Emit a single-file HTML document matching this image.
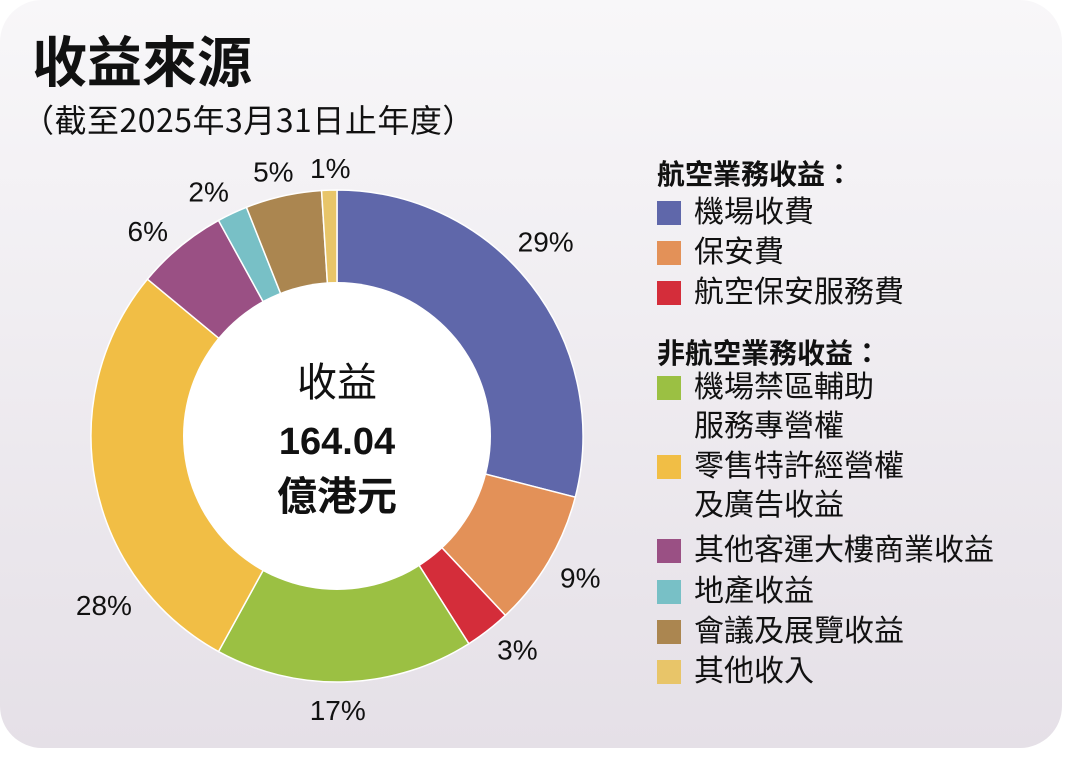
<!DOCTYPE html>
<html><head><meta charset="utf-8"><style>
body{margin:0;width:1080px;height:760px;background:#fff;overflow:hidden;font-family:"Liberation Sans","Noto Sans CJK TC",sans-serif;}
#card{position:absolute;left:0;top:0;width:1062px;height:748px;border-radius:42px;background:linear-gradient(#f8f7f9,#e5e0e7);}
.t{position:absolute;color:#111;white-space:nowrap;}
.sw{position:absolute;left:657px;width:24px;height:24px;}
</style></head><body>
<div id="card"></div>
<div class="t" style="left:32px;top:18px;font-size:55px;font-weight:bold;">收益來源</div>
<div class="t" style="left:22px;top:96px;font-size:32px;font-family:'Noto Sans CJK TC',sans-serif;letter-spacing:0.5px;">（截至2025年3月31日止年度）</div>
<svg id="chart" width="1080" height="760" style="position:absolute;left:0;top:0"></svg>
<div id="legend"></div>
<script>
const categories=["機場收費","保安費","航空保安服務費","機場禁區輔助服務專營權","零售特許經營權及廣告收益","其他客運大樓商業收益","地產收益","會議及展覽收益","其他收入"];
const values=[29,9,3,17,28,6,2,5,1];
const labels=["29%","9%","3%","17%","28%","6%","2%","5%","1%"];
const colors=["#5f67aa","#e39158","#d42d3a","#9bc043","#f1be45","#9a5084","#78c0c6","#ab8650","#e8c569"];
const labelNudge={0:[-11,-24],1:[4,0],2:[10,-6],3:[-8,-4],4:[40,117],5:[-12,9],6:[-10,7],7:[-3,7],8:[2,10]};
const cx=337,cy=436,R=246,r0=154,NS="http://www.w3.org/2000/svg";
const svg=document.getElementById('chart');
const total=values.reduce((a,b)=>a+b,0);
function pt(a,rad){return [cx+rad*Math.sin(a),cy-rad*Math.cos(a)];}
let acc=0;
values.forEach((v,i)=>{
 const a0=acc/total*2*Math.PI;acc+=v;const a1=acc/total*2*Math.PI;
 const [x0,y0]=pt(a0,R),[x1,y1]=pt(a1,R);const lg=(a1-a0)>Math.PI?1:0;
 const p=document.createElementNS(NS,'path');
 p.setAttribute('d',`M${cx},${cy}L${x0},${y0}A${R},${R} 0 ${lg} 1 ${x1},${y1}Z`);
 p.setAttribute('fill',colors[i]);p.setAttribute('stroke','#fff');p.setAttribute('stroke-width','1.5');
 
 
 svg.appendChild(p);
 const am=(a0+a1)/2;let [lx,ly]=pt(am,278);
 const nd=labelNudge[i]||[0,0];lx+=nd[0];ly+=nd[1];
 const t=document.createElementNS(NS,'text');
 t.setAttribute('x',lx);t.setAttribute('y',ly+10);t.setAttribute('text-anchor','middle');
 t.setAttribute('font-size','28');t.setAttribute('fill','#111');t.textContent=labels[i];
 
 
 svg.appendChild(t);
});
const c=document.createElementNS(NS,'circle');
c.setAttribute('cx',cx);c.setAttribute('cy',cy);c.setAttribute('r',r0);c.setAttribute('fill','#fff');


svg.appendChild(c);
[["收益",396,40,"normal"],["164.04",454,38,"bold"],["億港元",510,40,"bold"]].forEach((d,k)=>{
 const t=document.createElementNS(NS,'text');
 t.setAttribute('x',cx);t.setAttribute('y',d[1]);t.setAttribute('text-anchor','middle');
 t.setAttribute('font-size',d[2]);t.setAttribute('font-weight',d[3]);t.setAttribute('fill','#111');
 t.textContent=d[0];
 
 
 svg.appendChild(t);
});
const leg=document.getElementById('legend');
const heads=[["航空業務收益：",153],["非航空業務收益：",332]];
heads.forEach((h,k)=>{const d=document.createElement('div');d.className='t';
 d.style.cssText=`left:657px;top:${h[1]}px;font-size:28px;font-weight:bold;`;d.textContent=h[0];
 
 
 leg.appendChild(d);});
const rows=[[213,["機場收費"]],[253,["保安費"]],[293,["航空保安服務費"]],[388,["機場禁區輔助","服務專營權"]],[467,["零售特許經營權","及廣告收益"]],[551,["其他客運大樓商業收益"]],[592,["地產收益"]],[632,["會議及展覽收益"]],[672,["其他收入"]]];
rows.forEach((rw,i)=>{
 const s=document.createElement('div');s.className='sw';s.style.top=(rw[0]-12)+'px';s.style.background=colors[i];
 
 
 leg.appendChild(s);
 const d=document.createElement('div');d.className='t';
 d.style.cssText=`left:694px;top:${rw[0]-20}px;font-size:30px;line-height:39px;`;
 d.innerHTML=rw[1].join('<br>');
 
 
 leg.appendChild(d);
});
</script>
</body></html>
